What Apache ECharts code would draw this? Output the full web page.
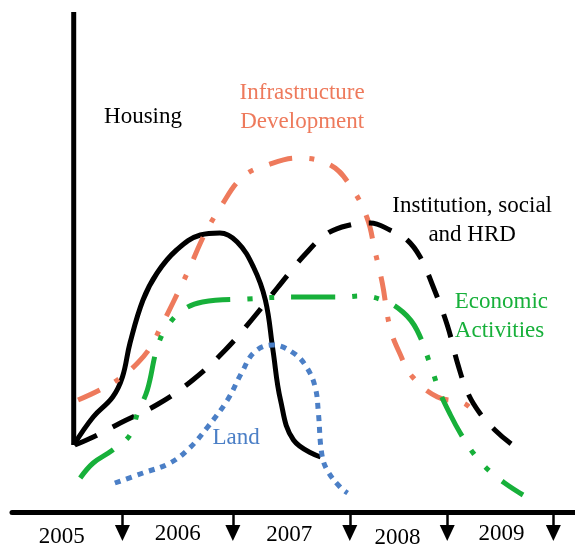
<!DOCTYPE html>
<html>
<head>
<meta charset="utf-8">
<script src="https://cdn.jsdelivr.net/npm/echarts@6/dist/echarts.min.js"></script>
<style>
  html, body { margin: 0; padding: 0; background: #fff; }
  #chart { width: 575px; height: 547px; }
</style>
</head>
<body>
<div id="chart"></div>
<script>
// timeline runs in years, intensity is an arbitrary 0-100 scale
const startYear = 2005.57
const startTop = 100
const startBottom = 13.4

const housingX = [2005.57, 2005.75, 2005.93, 2006.02, 2006.09, 2006.21, 2006.34, 2006.52, 2006.74, 2006.92, 2007.08, 2007.23, 2007.34, 2007.41, 2007.48, 2007.60, 2007.85]
const housingY = [13.4, 19.0, 23.0, 27.0, 33.8, 42.4, 47.8, 52.4, 55.4, 55.8, 54.0, 49.0, 42.4, 32.4, 22.4, 14.4, 11.0]

const infraX = [2005.61, 2005.81, 2006.00, 2006.16, 2006.28, 2006.37, 2006.49, 2006.64, 2006.74, 2006.81, 2006.92, 2007.13, 2007.36, 2007.64, 2007.94, 2008.12, 2008.28, 2008.35, 2008.42, 2008.49, 2008.58, 2008.70, 2008.93, 2009.17, 2009.28]
const infraY = [22.4, 24.4, 26.8, 29.8, 33.0, 36.8, 42.0, 48.8, 53.8, 56.8, 60.8, 67.0, 69.4, 70.8, 69.4, 65.4, 58.8, 52.4, 45.8, 37.0, 31.8, 27.0, 23.0, 21.8, 19.8]

const instX = [2005.58, 2005.75, 2006.00, 2006.35, 2006.67, 2006.97, 2007.22, 2007.45, 2007.71, 2007.92, 2008.12, 2008.31, 2008.49, 2008.65, 2008.77, 2008.88, 2009.02, 2009.12, 2009.21, 2009.32, 2009.46, 2009.60, 2009.74]
const instY = [13.4, 15.0, 17.8, 21.6, 26.4, 32.4, 38.6, 44.8, 51.6, 55.8, 57.4, 57.8, 56.4, 54.4, 51.0, 45.6, 37.4, 29.4, 23.8, 19.8, 16.4, 13.8, 11.8]

const econX = [2005.63, 2005.75, 2005.93, 2006.09, 2006.16, 2006.25, 2006.34, 2006.43, 2006.58, 2006.76, 2007.17, 2007.60, 2008.06, 2008.21, 2008.42, 2008.61, 2008.74, 2008.88, 2008.95, 2009.05, 2009.14, 2009.26, 2009.40, 2009.55, 2009.72]
const econY = [6.8, 9.8, 12.4, 15.4, 19.8, 24.4, 32.8, 37.0, 40.4, 42.0, 42.6, 43.0, 43.0, 43.2, 42.4, 40.0, 36.4, 28.4, 24.0, 19.4, 15.8, 11.8, 8.4, 5.8, 3.4]

const landX = [2005.95, 2006.21, 2006.46, 2006.64, 2006.80, 2006.99, 2007.12, 2007.24, 2007.41, 2007.60, 2007.72, 2007.80, 2007.83, 2007.86, 2007.91, 2008.03, 2008.10]
const landY = [5.8, 7.8, 9.8, 12.8, 16.8, 22.4, 27.8, 32.0, 33.4, 31.8, 29.0, 25.0, 19.8, 11.8, 8.4, 5.0, 3.8]

// year markers under the timeline
const tickYears = [2006.02, 2007.04, 2008.12, 2009.02, 2010.0]
const yearLabels = ['2005', '2006', '2007', '2008', '2009']
const yearLabelX = [2005.46, 2006.53, 2007.56, 2008.56, 2009.52]
const yearLabelY = [-5.0, -4.4, -4.6, -5.2, -4.4]

// curve names placed on the chart
const seriesLabels = ['Housing', 'Infrastructure\nDevelopment', 'Institution, social\nand HRD', 'Economic\nActivities', 'Land']
const seriesLabelX = [2006.21, 2007.68, 2009.25, 2009.09, 2007.07]
const seriesLabelY = [79.0, 80.9, 58.4, 39.2, 14.8]

const BLACK = '#000000'
const ORANGE = '#EE7A5C'
const GREEN = '#17B03A'
const BLUE = '#4B7FC6'
const labelColors = [BLACK, ORANGE, BLACK, GREEN, BLUE]
const FONT = 'Liberation Serif'

const zip = (xs, ys) => xs.map((x, i) => [x, ys[i]])

const curve = (name, xs, ys, color, type, width) => ({
  name,
  type: 'line',
  data: zip(xs, ys),
  smooth: 0.4,
  symbol: 'none',
  silent: true,
  lineStyle: { color, width, type, cap: 'butt', join: 'round' }
})

const textLabel = {
  show: true,
  position: 'inside',
  formatter: '{b}',
  fontFamily: FONT,
  fontSize: 23,
  textBorderWidth: 0,
  textShadowBlur: 0,
  opacity: 1
}

const chart = echarts.init(document.getElementById('chart'))

chart.setOption({
  animation: false,
  backgroundColor: '#fff',
  grid: { left: 12, right: 0, top: 12, bottom: 0 },
  xAxis: {
    type: 'value',
    min: 2005,
    max: 2010.2,
    axisLine: { show: true, onZero: true, lineStyle: { color: BLACK, width: 5 } },
    axisTick: { show: false },
    axisLabel: { show: false },
    splitLine: { show: false }
  },
  yAxis: {
    type: 'value',
    min: -7,
    max: 100,
    show: false,
    splitLine: { show: false }
  },
  series: [
    {
      name: 'start',
      type: 'line',
      data: [[startYear, startTop], [startYear, startBottom]],
      symbol: 'none',
      lineStyle: { color: BLACK, width: 5, cap: 'butt' }
    },
    curve('Housing', housingX, housingY, BLACK, 'solid', 5),
    curve('Infrastructure', infraX, infraY, ORANGE, [24, 17, 5, 17], 5),
    curve('Institution', instX, instY, BLACK, [24, 18], 5),
    curve('Economic', econX, econY, GREEN, [44, 17, 5, 17, 5, 17], 5),
    curve('Land', landX, landY, BLUE, [6, 6], 5),
    {
      name: 'ticks',
      type: 'scatter',
      data: tickYears.map(x => [x, -4.2]),
      symbol: 'triangle',
      symbolRotate: 180,
      symbolSize: [15, 16],
      itemStyle: { color: BLACK, opacity: 1 },
      markLine: {
        silent: true,
        symbol: 'none',
        label: { show: false },
        lineStyle: { color: BLACK, width: 2.5, type: 'solid', opacity: 1 },
        data: tickYears.map(x => [{ coord: [x, 0] }, { coord: [x, -3.0] }])
      }
    },
    {
      name: 'years',
      type: 'scatter',
      symbolSize: 0,
      itemStyle: { opacity: 1 },
      data: yearLabels.map((t, i) => ({ name: t, value: [yearLabelX[i], yearLabelY[i]] })),
      label: { ...textLabel, color: BLACK }
    },
    {
      name: 'names',
      type: 'scatter',
      symbolSize: 0,
      itemStyle: { opacity: 1 },
      data: seriesLabels.map((t, i) => ({
        name: t,
        value: [seriesLabelX[i], seriesLabelY[i]],
        label: i === 3 ? { align: 'left', color: labelColors[i] } : { color: labelColors[i] }
      })),
      label: { ...textLabel, lineHeight: 29 }
    }
  ]
})
</script>
</body>
</html>
